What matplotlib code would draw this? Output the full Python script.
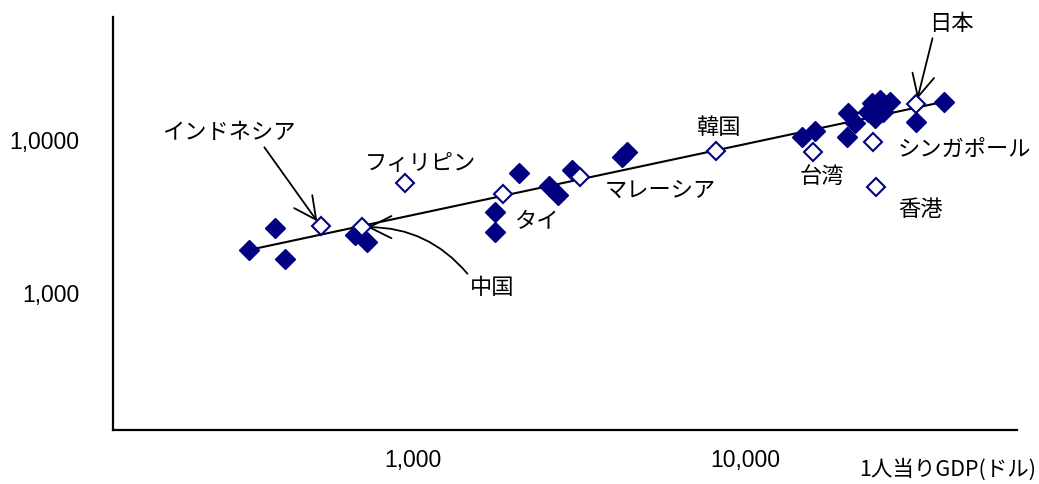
import numpy as np
import matplotlib
matplotlib.use('Agg')
import matplotlib.pyplot as plt
import matplotlib.ticker as ticker

plt.rcParams['font.family'] = ['Noto Sans CJK JP', 'DejaVu Sans']

# その他の国（塗りつぶしの菱形）
gdp_other = [321, 384, 411, 669, 728, 1766, 1766, 2090, 2574, 2740, 3006, 4253, 4413,
             14820, 16250, 20470, 21450, 20250, 24070, 25510, 27340, 24930, 26110,
             24640, 23520, 32730, 39760]
y_other = [1910, 2650, 1660, 2393, 2163, 3365, 2517, 6110, 5025, 4370, 6368, 7784, 8352,
           10410, 11500, 15080, 12980, 10410, 17380, 18260, 17800, 14940, 15310,
           13860, 15310, 13170, 17800]

# アジアの国・地域（白抜きの菱形）
asia_names = ['インドネシア', '中国', 'フィリピン', 'タイ', 'マレーシア', '韓国',
              '台湾', 'シンガポール', '香港', '日本']
gdp_asia = [527, 701, 946, 1862, 3185, 8180, 16060, 24340, 24810, 32730]
y_asia = [2743, 2686, 5212, 4415, 5755, 8475, 8388, 9750, 4910, 17120]

# 回帰線の両端
trend_x = [321, 39760]
trend_y = [1910, 17800]

navy = '#000080'

fig = plt.figure(figsize=(10.39, 4.84), dpi=100)
ax = fig.add_axes([113 / 1039, 1 - 430 / 484, (1017 - 113) / 1039, (430 - 17) / 484])
ax.set_xscale('log')
ax.set_yscale('log')
ax.set_xlim(125, 65900)
ax.set_ylim(127, 63700)

ax.plot(trend_x, trend_y, color='black', lw=1.5, zorder=2)
ax.plot(gdp_other, y_other, 'D', color=navy, ms=10, mec=navy, zorder=3)
ax.plot(gdp_asia, y_asia, 'D', mfc='white', mec=navy, ms=9, mew=1.5, zorder=4)

for s in ['top', 'right']:
    ax.spines[s].set_visible(False)
for s in ['left', 'bottom']:
    ax.spines[s].set_linewidth(1.6)

ax.xaxis.set_major_locator(ticker.FixedLocator([1000, 10000]))
ax.yaxis.set_major_locator(ticker.FixedLocator([1000, 10000]))
ax.xaxis.set_minor_locator(ticker.NullLocator())
ax.yaxis.set_minor_locator(ticker.NullLocator())
ax.set_xticklabels(['1,000', '10,000'], family='Liberation Sans', fontsize=16.5)
ax.set_yticklabels(['1,000', '1,0000'], family='Liberation Sans', fontsize=16.5)
ax.tick_params(axis='x', length=0, pad=14)
ax.tick_params(axis='y', length=0, pad=24)

fig.text(948 / 1039, 1 - 470 / 484, '1人当りGDP(ドル)', fontsize=15.5,
         ha='center', va='center')

lab = dict(fontsize=16, ha='center', va='center', textcoords='figure pixels')
arrow = dict(arrowstyle='->,head_length=1.0,head_width=0.5', color='black', lw=1.3,
             shrinkA=0, shrinkB=4)

def fp(px, py):
    return (px, 484 - py)

# 矢印付きのラベル
ax.annotate('インドネシア', xy=(gdp_asia[0], y_asia[0]), xytext=fp(229, 133),
            arrowprops=dict(arrow, relpos=(0.75, 0.0)), **lab)
ax.annotate('中国', xy=(gdp_asia[1], y_asia[1]), xytext=fp(492, 288),
            arrowprops=dict(arrow, relpos=(0.0, 1.0), connectionstyle='arc3,rad=0.25'), **lab)
ax.annotate('日本', xy=(gdp_asia[9], y_asia[9]), xytext=fp(951, 24),
            arrowprops=dict(arrow, relpos=(0.1, 0.0)), **lab)

# 矢印なしのラベル
plain = {'フィリピン': (420, 163), 'タイ': (537, 222), 'マレーシア': (660, 190),
         '韓国': (718, 128), '台湾': (822, 176), 'シンガポール': (964, 149), '香港': (920, 210)}
for name, (px, py) in plain.items():
    ax.annotate(name, xy=fp(px, py), xycoords='figure pixels', **lab)

plt.savefig('out.png', dpi=100)
